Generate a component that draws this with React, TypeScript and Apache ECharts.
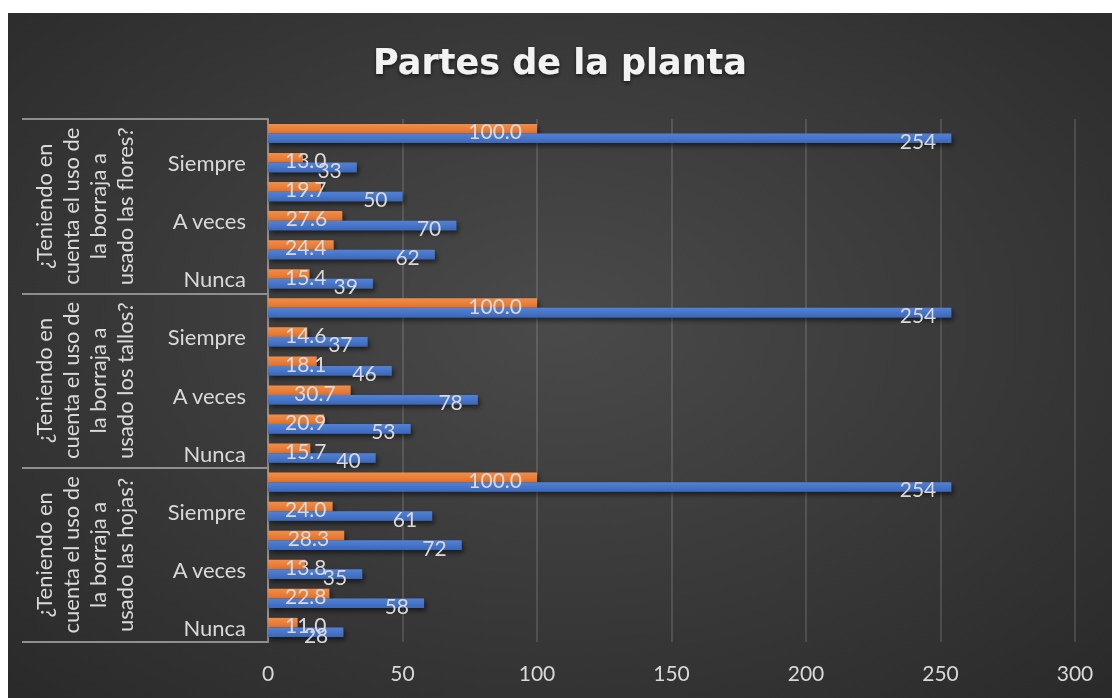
import React, { useEffect, useRef } from "react";
import * as echarts from "echarts";

const chartTitle = "Partes de la planta";
// bottom-to-top order (ECharts category y axis starts at the bottom)
const groupLabels = [
  "¿Teniendo en\ncuenta el uso de\nla borraja a\nusado las hojas?",
  "¿Teniendo en\ncuenta el uso de\nla borraja a\nusado los tallos?",
  "¿Teniendo en\ncuenta el uso de\nla borraja a\nusado las flores?",
];
const answers = ["Nunca", "Casi nunca", "A veces", "Casi siempre", "Siempre", "Total"];

const hojasFreq = [28, 58, 35, 72, 61, 254];
const hojasPct = [11.0, 22.8, 13.8, 28.3, 24.0, 100.0];
const tallosFreq = [40, 53, 78, 46, 37, 254];
const tallosPct = [15.7, 20.9, 30.7, 18.1, 14.6, 100.0];
const floresFreq = [39, 62, 70, 50, 33, 254];
const floresPct = [15.4, 24.4, 27.6, 19.7, 13.0, 100.0];

const xMin = 0;
const xMax = 300;
const xInterval = 50;

const FONT = "Lato, 'Noto Sans', sans-serif";
const TEXT = "#d9d9d9";

export default function App() {
  const ref = useRef<HTMLDivElement>(null);

  useEffect(() => {
    if (!ref.current) return;
    const chart = echarts.init(ref.current, undefined, { renderer: "svg" });

    const width = 1104;
    const gridLeft = 260;
    const gridRight = 37;
    const ppu = (width - gridLeft - gridRight) / (xMax - xMin);

    const categories = [...answers, ...answers, ...answers];
    const freq = [...hojasFreq, ...tallosFreq, ...floresFreq];
    const pct = [...hojasPct, ...tallosPct, ...floresPct];

    const estWidth = (s: string) =>
      s.split("").reduce((a, c) => a + (c === "." ? 5.5 : 12.2), 0);

    const toItems = (vals: number[], fmt: (v: number) => string, dy: number) =>
      vals.map((v) => {
        const txt = fmt(v);
        const fits = v * ppu - 15 - estWidth(txt) >= 17;
        return {
          value: v,
          label: fits
            ? { position: "insideRight", distance: 15, offset: [0, dy] }
            : { position: "insideLeft", distance: 17, offset: [0, dy] },
        };
      });

    const barShadow = {
      shadowColor: "rgba(0,0,0,0.55)",
      shadowBlur: 5,
      shadowOffsetX: 2,
      shadowOffsetY: 3,
    };

    chart.setOption({
      animation: false,
      title: {
        text: chartTitle,
        left: "center",
        top: 26,
        textStyle: {
          fontFamily: "'DejaVu Sans', sans-serif",
          fontSize: 35,
          fontWeight: "bold",
          color: "#f2f2f2",
          textShadowColor: "rgba(0,0,0,0.6)",
          textShadowBlur: 4,
          textShadowOffsetY: 2,
        },
      },
      grid: { left: gridLeft, right: gridRight, top: 106, bottom: 56, containLabel: false },
      xAxis: {
        type: "value",
        min: xMin,
        max: xMax,
        interval: xInterval,
        axisLine: { show: false },
        axisTick: { show: false },
        axisLabel: { color: TEXT, fontSize: 21, fontFamily: FONT, margin: 20 },
        splitLine: { lineStyle: { color: "rgba(255,255,255,0.13)", width: 2 } },
      },
      yAxis: [
        {
          type: "category",
          data: categories,
          position: "left",
          axisLine: { show: true, lineStyle: { color: "#8f8f8f", width: 2 } },
          axisTick: { show: false },
          axisLabel: {
            interval: 1,
            color: TEXT,
            fontSize: 22,
            fontFamily: FONT,
            margin: 22,
          },
        },
        {
          type: "category",
          data: groupLabels,
          position: "left",
          axisLine: { show: false },
          axisTick: { show: true, length: 246, lineStyle: { color: "#8f8f8f", width: 2 } },
          axisLabel: {
            interval: 0,
            rotate: 90,
            align: "center",
            verticalAlign: "middle",
            margin: 184,
            color: TEXT,
            fontSize: 22,
            lineHeight: 27,
            fontFamily: FONT,
          },
        },
      ],
      series: [
        {
          name: "Porcentaje",
          type: "bar",
          yAxisIndex: 0,
          barGap: "0%",
          barCategoryGap: "34%",
          data: toItems(pct, (v) => v.toFixed(1), 2),
          itemStyle: {
            color: new echarts.graphic.LinearGradient(0, 0, 0, 1, [
              { offset: 0, color: "#f28d48" },
              { offset: 1, color: "#e2722a" },
            ]),
            ...barShadow,
          },
          label: {
            show: true,
            color: TEXT,
            fontSize: 21,
            fontFamily: FONT,
            formatter: (p: any) => Number(p.value).toFixed(1),
          },
        },
        {
          name: "Frecuencia",
          type: "bar",
          yAxisIndex: 0,
          barGap: "0%",
          barCategoryGap: "34%",
          data: toItems(freq, (v) => String(v), 2),
          itemStyle: {
            color: new echarts.graphic.LinearGradient(0, 0, 0, 1, [
              { offset: 0, color: "#5182d8" },
              { offset: 1, color: "#3c67b8" },
            ]),
            ...barShadow,
          },
          label: {
            show: true,
            color: TEXT,
            fontSize: 21,
            fontFamily: FONT,
            formatter: (p: any) => String(p.value),
          },
        },
      ],
    });

    return () => chart.dispose();
  }, []);

  return (
    <div
      style={{
        position: "fixed",
        left: 8,
        top: 13,
        width: 1104,
        height: 685,
        background:
          "radial-gradient(ellipse 75% 80% at 50% 45%, #4a4a4a 0%, #3b3b3b 45%, #282828 100%)",
      }}
    >
      <div ref={ref} style={{ width: 1104, height: 685 }} />
    </div>
  );
}
